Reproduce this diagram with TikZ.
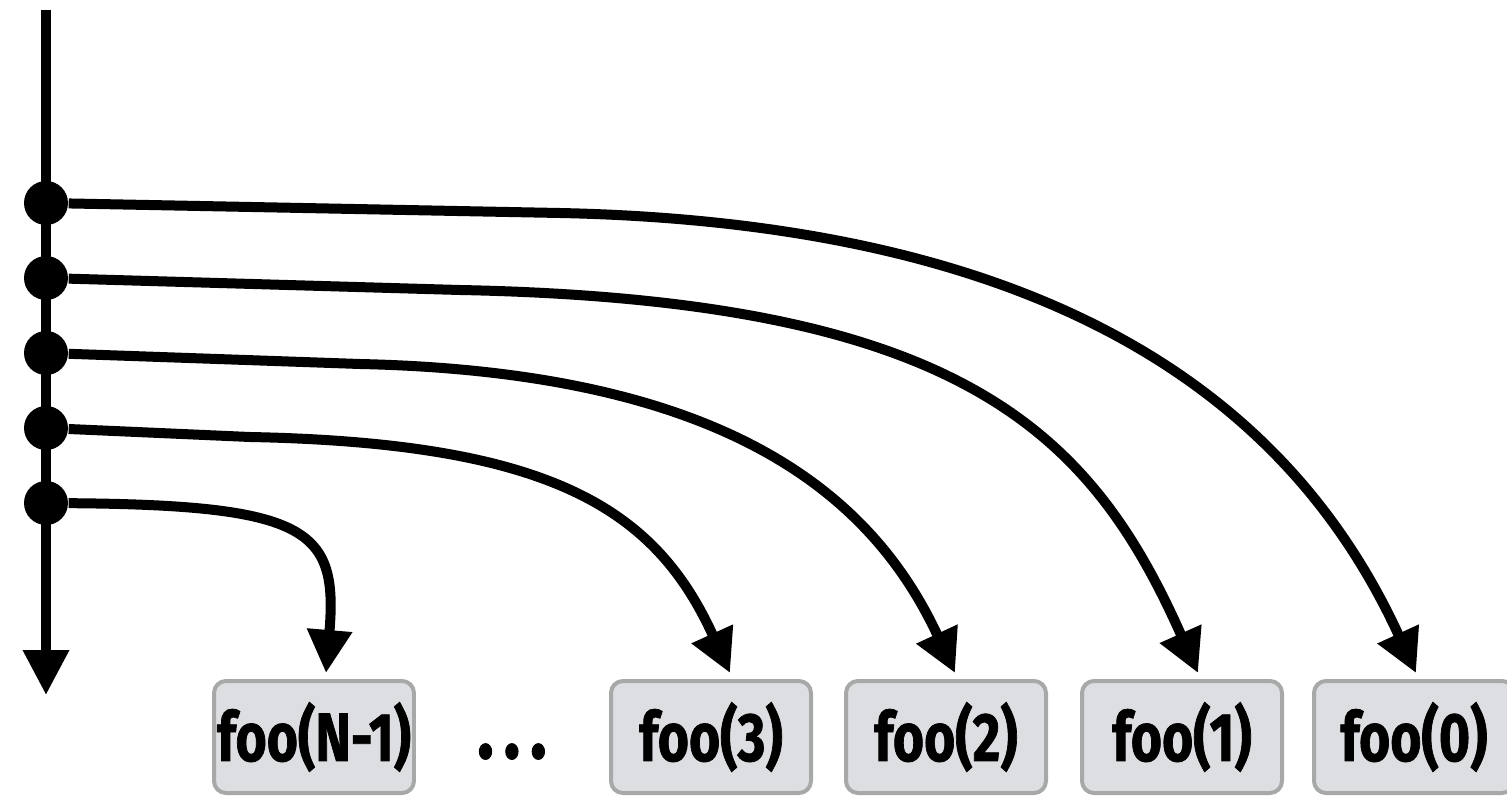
\documentclass[tikz,border=0pt]{standalone}
\usepackage{fontspec}
\setmainfont{Fira Sans}[FakeStretch=0.78, BoldFeatures={FakeBold=1}]
\usetikzlibrary{arrows.meta}

\definecolor{callfill}{RGB}{221,222,225}
\definecolor{callgray}{RGB}{166,169,168}

\tikzset{
    label/.style={font=\fontsize{19.5pt}{22pt}\selectfont\bfseries},
    call/.style={label, draw=callgray, fill=callfill, line width=0.4mm, rounded corners=1.2mm,
        minimum width=20mm, minimum height=11.2mm, inner sep=0pt},
    spawn/.style={circle, fill=black, inner sep=0pt, minimum size=4.4mm},
    fork/.style={line width=1mm, -{Triangle[length=4.3mm, width=4.3mm]}},
}

\begin{document}
\begin{tikzpicture}[x=0.1mm, y=-0.1mm]

    \useasboundingbox (0,0) rectangle (1507,796);

    % Time line
    \coordinate (top) at (46,10);
    \coordinate (bottom) at (46,695);
    \draw[line width=1mm, -{Triangle[length=4.5mm, width=4.4mm]}] (top) -- (bottom);

    % Spawn points
    \foreach \i/\y in {0/203,1/278,2/353,3/428,4/503} {
        \node[spawn] (s\i) at (46,\y) {};
    }

    % Calls
    \node[call] (f4) at (314,737) {foo(N-1)};
    \node[font=\fontsize{25pt}{28pt}\selectfont\bfseries, anchor=base, inner sep=0pt] (dots) at (512,758) {.\kern1mm.\kern1mm.};
    \node[call] (f3) at (711,737) {foo(3)};
    \node[call] (f2) at (946,737) {foo(2)};
    \node[call] (f1) at (1182,737) {foo(1)};
    \node[call] (f0) at (1414,737) {foo(0)};

    % Forks
    \draw[fork] (s0) -- (560,213) .. controls (1080,224) and (1300,420) .. ([xshift=0.2mm, yshift=0.6mm]f0.north);
    \draw[fork] (s1) -- (460,290) .. controls (960,300) and (1090,430) .. ([xshift=1.6mm, yshift=0.6mm]f1.north);
    \draw[fork] (s2) -- (360,364) .. controls (720,372) and (870,490) .. ([xshift=0.9mm, yshift=0.6mm]f2.north);
    \draw[fork] (s3) -- (250,437) .. controls (550,443) and (655,508) .. ([xshift=1.9mm, yshift=0.6mm]f3.north);
    \draw[fork] (s4) .. controls (310,505) and (338,530) .. ([xshift=1.2mm, yshift=0.6mm]f4.north);

\end{tikzpicture}
\end{document}
